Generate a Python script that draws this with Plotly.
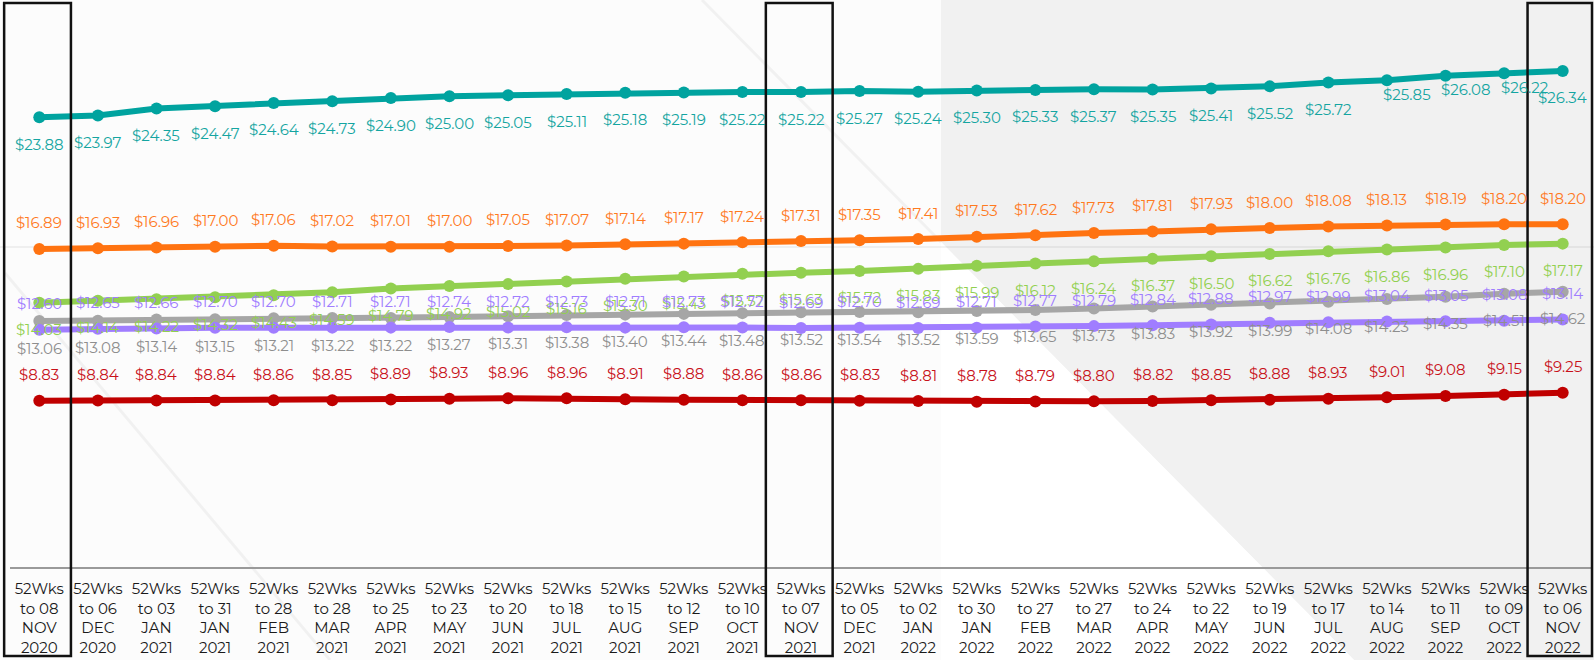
import plotly.graph_objects as go

# Period labels (52-week rolling windows)
periods = [
    "08 NOV 2020", "06 DEC 2020", "03 JAN 2021", "31 JAN 2021", "28 FEB 2021",
    "28 MAR 2021", "25 APR 2021", "23 MAY 2021", "20 JUN 2021", "18 JUL 2021",
    "15 AUG 2021", "12 SEP 2021", "10 OCT 2021", "07 NOV 2021", "05 DEC 2021",
    "02 JAN 2022", "30 JAN 2022", "27 FEB 2022", "27 MAR 2022", "24 APR 2022",
    "22 MAY 2022", "19 JUN 2022", "17 JUL 2022", "14 AUG 2022", "11 SEP 2022",
    "09 OCT 2022", "06 NOV 2022",
]

teal_vals = [23.88, 23.97, 24.35, 24.47, 24.64, 24.73, 24.90, 25.00, 25.05, 25.11,
             25.18, 25.19, 25.22, 25.22, 25.27, 25.24, 25.30, 25.33, 25.37, 25.35,
             25.41, 25.52, 25.72, 25.85, 26.08, 26.22, 26.34]
orange_vals = [16.89, 16.93, 16.96, 17.00, 17.06, 17.02, 17.01, 17.00, 17.05, 17.07,
               17.14, 17.17, 17.24, 17.31, 17.35, 17.41, 17.53, 17.62, 17.73, 17.81,
               17.93, 18.00, 18.08, 18.13, 18.19, 18.20, 18.20]
green_vals = [14.03, 14.14, 14.22, 14.32, 14.43, 14.59, 14.79, 14.92, 15.02, 15.16,
              15.30, 15.43, 15.57, 15.63, 15.72, 15.83, 15.99, 16.12, 16.24, 16.37,
              16.50, 16.62, 16.76, 16.86, 16.96, 17.10, 17.17]
gray_vals = [13.06, 13.08, 13.14, 13.15, 13.21, 13.22, 13.22, 13.27, 13.31, 13.38,
             13.40, 13.44, 13.48, 13.52, 13.54, 13.52, 13.59, 13.65, 13.73, 13.83,
             13.92, 13.99, 14.08, 14.23, 14.35, 14.51, 14.62]
purple_vals = [12.60, 12.65, 12.66, 12.70, 12.70, 12.71, 12.71, 12.74, 12.72, 12.73,
               12.71, 12.73, 12.72, 12.69, 12.70, 12.69, 12.71, 12.77, 12.79, 12.84,
               12.88, 12.97, 12.99, 13.04, 13.05, 13.08, 13.14]
red_vals = [8.83, 8.84, 8.84, 8.84, 8.86, 8.85, 8.89, 8.93, 8.96, 8.96,
            8.91, 8.88, 8.86, 8.86, 8.83, 8.81, 8.78, 8.79, 8.80, 8.82,
            8.85, 8.88, 8.93, 9.01, 9.08, 9.15, 9.25]

# Periods outlined with a box
highlight_idx = [0, 13, 26]

# (values, line colour, label colour, label offset in px: + above / - below)
series = [
    (teal_vals, "#00A39F", "#14A5A1", -27),
    (orange_vals, "#FF7311", "#FF7A1F", 26),
    (green_vals, "#92D050", "#92D050", -27),
    (gray_vals, "#A6A6A6", "#8E8E8E", -27),
    (purple_vals, "#A07DFF", "#A07DFF", 26),
    (red_vals, "#C00000", "#C8111A", 26),
]

FONT = "Montserrat, 'Open Sans', sans-serif"
W, H = 1594, 660
ML, MR, MT, MB = 10, 2, 2, 93
PW, PH = W - ML - MR, H - MT - MB
N = len(periods)

tick_text = [
    "52Wks<br>to {}<br>{}<br>{}".format(*p.split(" ")) for p in periods
]


def pxx(x):
    return (x - ML) / PW


def pxy(y):
    return (H - MB - y) / PH


def idx_paper(i, off):
    return (i + 0.5 + off) / N


fig = go.Figure()

for vals, lc, tc, off in series:
    fig.add_trace(go.Scatter(
        x=list(range(N)), y=vals, mode="lines+markers",
        line=dict(color=lc, width=6),
        marker=dict(color=lc, size=12),
        hoverinfo="skip", showlegend=False,
    ))

annotations = []
for vals, lc, tc, off in series:
    for i, v in enumerate(vals):
        xs, ys = 0, off
        if vals is teal_vals and i in (23, 24, 25):
            xs, ys = 20, -14
        annotations.append(dict(
            x=i, y=v, xref="x", yref="y", text="${:.2f}".format(v),
            showarrow=False, xshift=xs, yshift=ys,
            font=dict(family=FONT, size=15, color=tc),
        ))

shapes = []
# Background panels
shapes.append(dict(
    type="path", xref="paper", yref="paper", layer="below",
    path="M {a},{b} L {c},{b} L {c},{d} L {e},{d} L {a},{f} Z".format(
        a=pxx(941), b=pxy(0), c=pxx(W), d=pxy(H), e=pxx(1354), f=pxy(242)),
    fillcolor="#F1F1F1", line=dict(width=0),
))
shapes.append(dict(
    type="path", xref="paper", yref="paper", layer="below",
    path="M {a},{f} L {e},{d} L {a},{d} Z".format(
        a=pxx(941), d=pxy(H), e=pxx(1354), f=pxy(242)),
    fillcolor="#FFFFFF", line=dict(width=0),
))
# Faint decorative strokes
shapes.append(dict(
    type="line", xref="paper", yref="paper", layer="below",
    x0=pxx(0), x1=pxx(W), y0=pxy(247), y1=pxy(247),
    line=dict(color="rgba(0,0,0,0.05)", width=2),
))
shapes.append(dict(
    type="line", xref="paper", yref="paper", layer="below",
    x0=pxx(702), x1=pxx(941), y0=pxy(0), y1=pxy(242),
    line=dict(color="rgba(0,0,0,0.045)", width=3),
))
shapes.append(dict(
    type="line", xref="paper", yref="paper", layer="below",
    x0=pxx(5), x1=pxx(330), y0=pxy(273), y1=pxy(660),
    line=dict(color="rgba(0,0,0,0.045)", width=3),
))
# Highlight boxes
for i in highlight_idx:
    shapes.append(dict(
        type="rect", xref="paper", yref="paper", layer="above",
        x0=max(idx_paper(i, -0.6), pxx(2)), x1=min(idx_paper(i, 0.54), pxx(W - 2)),
        y0=pxy(656), y1=pxy(3),
        line=dict(color="#111111", width=2.5), fillcolor="rgba(0,0,0,0)",
    ))

fig.update_layout(
    width=W, height=H, autosize=False,
    margin=dict(l=ML, r=MR, t=MT, b=MB, pad=0),
    paper_bgcolor="#FCFCFC", plot_bgcolor="rgba(0,0,0,0)",
    font=dict(family=FONT),
    showlegend=False,
    xaxis=dict(
        range=[-0.5, N - 0.5], tickmode="array",
        tickvals=list(range(N)), ticktext=tick_text,
        showgrid=False, zeroline=False, showline=True,
        linecolor="#9A9A9A", linewidth=2, ticks="",
        ticklabelstandoff=7,
        tickfont=dict(family=FONT, size=15, color="#1A1A1A"),
        fixedrange=True,
    ),
    yaxis=dict(range=[0, 30], visible=False, fixedrange=True),
    annotations=annotations,
    shapes=shapes,
)

fig.write_html("out.html")
